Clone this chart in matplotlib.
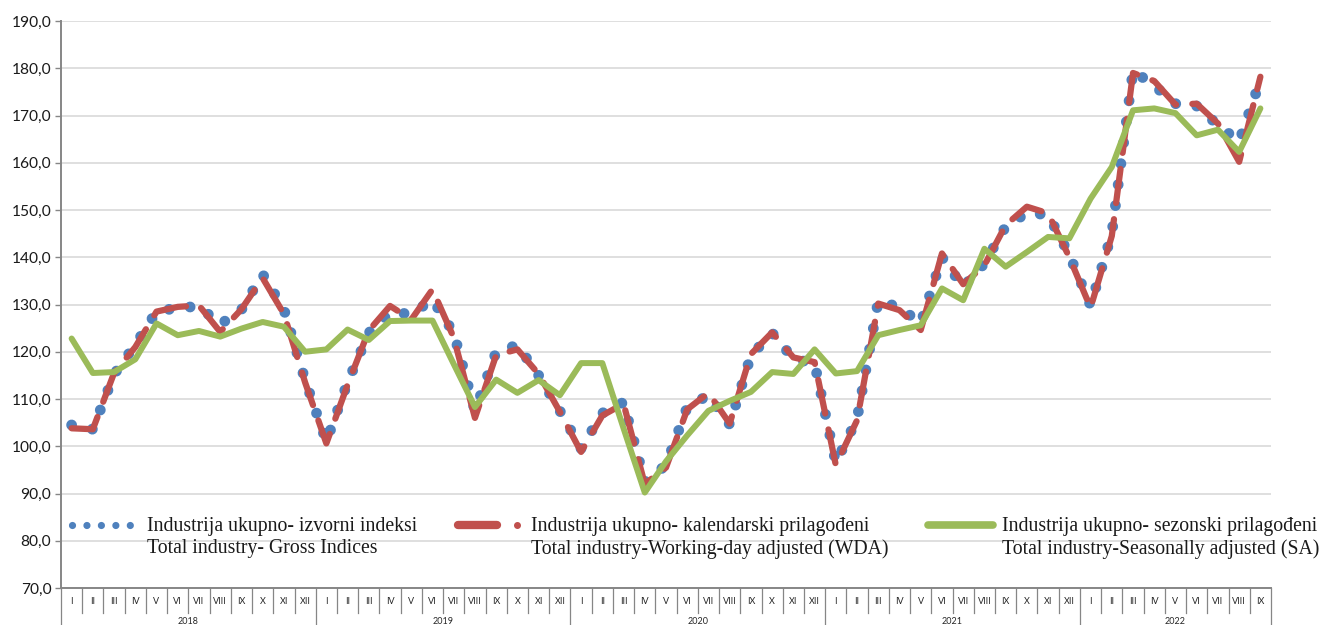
import matplotlib
matplotlib.use('Agg')
import matplotlib.pyplot as plt
from matplotlib.lines import Line2D
from matplotlib.ticker import FuncFormatter

# Mjeseci (rimski brojevi) i godine na x osi
MONTHS = ['I', 'II', 'III', 'IV', 'V', 'VI', 'VII', 'VIII', 'IX', 'X', 'XI', 'XII']
YEARS = ['2018', '2019', '2020', '2021', '2022']
MONTHS_LAST_YEAR = 9

# Izvorni indeksi (gross)
gross = [104.5, 103.6, 115.2, 121.5, 128.5, 129.3, 129.6, 125.8, 128.9, 136.4, 129.0, 114.0,
         101.0, 113.5, 124.0, 128.3, 128.0, 131.0, 124.0, 107.5, 120.0, 121.4, 115.0, 107.5,
         99.5, 107.0, 109.3, 92.5, 96.0, 108.3, 110.8, 104.6, 119.2, 124.0, 118.5, 117.5,
         96.5, 105.8, 130.8, 129.4, 126.0, 140.0, 133.7, 138.7, 146.5, 149.4, 149.0, 140.5,
         129.8, 145.0, 179.5, 176.3, 172.5, 172.0, 168.0, 164.5, 177.5]

# Kalendarski prilagodjeni (WDA)
wda = [103.8, 103.6, 115.5, 121.0, 128.5, 129.5, 129.8, 124.2, 129.0, 135.6, 128.0, 113.5,
       100.6, 113.0, 124.5, 129.7, 126.8, 133.2, 123.0, 106.0, 119.3, 120.5, 115.3, 107.3,
       98.8, 106.5, 109.0, 92.0, 95.5, 107.8, 111.3, 104.8, 119.5, 124.1, 118.8, 117.8,
       96.0, 105.5, 130.2, 128.8, 124.6, 140.8, 134.3, 138.3, 146.8, 150.7, 149.3, 140.0,
       129.3, 144.5, 179.0, 177.3, 172.3, 172.5, 168.3, 160.2, 178.2]

# Sezonski prilagodjeni (SA)
sa = [122.8, 115.5, 115.7, 118.4, 126.0, 123.5, 124.4, 123.2, 124.9, 126.3, 125.3, 120.0,
      120.5, 124.7, 122.5, 126.5, 126.6, 126.6, 117.4, 108.3, 114.1, 111.3, 114.0, 110.8,
      117.6, 117.6, 103.8, 90.2, 96.8, 102.3, 107.5, 109.6, 111.5, 115.7, 115.3, 120.5,
      115.4, 115.9, 123.5, 124.6, 125.6, 133.4, 130.9, 141.8, 138.0, 141.1, 144.3, 144.0,
      152.4, 159.1, 171.1, 171.5, 170.5, 165.8, 167.0, 162.3, 171.5]

LABELS = [
    ('Industrija ukupno- izvorni indeksi', 'Total industry- Gross Indices'),
    ('Industrija ukupno- kalendarski prilagođeni', 'Total industry-Working-day adjusted (WDA)'),
    ('Industrija ukupno- sezonski prilagođeni', 'Total industry-Seasonally adjusted (SA)'),
]

BLUE = '#4f81bd'
RED = '#c0504d'
GREEN = '#9bbb59'
AXIS_GRAY = '#868686'

W, H = 1322, 625


def fx(x):
    return x / W


def fy(y):
    return 1 - y / H


def draw_series(ax, n):
    x = list(range(n))
    # izvorni: okrugle tacke
    ax.plot(x, gross, color=BLUE, lw=7.8, linestyle=(0, (0.001, 1.95)),
            dash_capstyle='round', zorder=2)
    # WDA: isprekidana linija
    ax.plot(x, wda, color=RED, lw=4.5, linestyle=(0, (5.5, 2.6)),
            dash_capstyle='round', solid_joinstyle='round', zorder=3)
    # SA: puna linija
    ax.plot(x, sa, color=GREEN, lw=4.3, solid_joinstyle='round',
            solid_capstyle='round', zorder=4)


def draw_xaxis(ax, n):
    tr = ax.get_xaxis_transform()
    ah = 567.0
    labels = [MONTHS[i % 12] for i in range(n)]
    for i, lab in enumerate(labels):
        ax.text(i, -13 / ah, lab, transform=tr, ha='center', va='center',
                fontsize=6.5, family='Lato', color='#262626', clip_on=False)
    # separatori mjeseci
    for i in range(n + 1):
        edge = i - 0.5
        full = (i % 12 == 0) or i == n
        y1 = -40 / ah if full else -25 / ah
        ax.plot([edge, edge], [0, y1], transform=tr, color=AXIS_GRAY,
                lw=0.9, clip_on=False, zorder=1)
    # godine
    start = 0
    for yr in YEARS:
        cnt = 12 if yr != YEARS[-1] else MONTHS_LAST_YEAR
        ax.text(start + (cnt - 1) / 2, -33 / ah, yr, transform=tr, ha='center',
                va='center', fontsize=6.5, family='Lato', color='#262626',
                clip_on=False)
        start += cnt


def draw_legend(fig):
    yl = 525
    # izvorni
    fig.add_artist(Line2D([fx(72), fx(131)], [fy(yl), fy(yl)], color=BLUE, lw=5.2,
                          linestyle=(0, (0.001, 2.0)), dash_capstyle='round'))
    # WDA
    fig.add_artist(Line2D([fx(458), fx(497)], [fy(yl), fy(yl)], color=RED, lw=6,
                          solid_capstyle='round'))
    fig.add_artist(Line2D([fx(517)], [fy(yl)], color=RED, marker='o',
                          markersize=4, lw=0))
    # SA
    fig.add_artist(Line2D([fx(928), fx(993)], [fy(yl), fy(yl)], color=GREEN, lw=5.5,
                          solid_capstyle='round'))
    for xt, (l1, l2) in zip([147, 531, 1002], LABELS):
        fig.text(fx(xt), fy(526), l1, ha='left', va='center', fontsize=14.2,
                 family='Liberation Serif', color='#1a1a1a')
        fig.text(fx(xt), fy(549), l2, ha='left', va='center', fontsize=14.2,
                 family='Liberation Serif', color='#1a1a1a')


def main():
    n = len(gross)
    fig = plt.figure(figsize=(W / 100, H / 100), dpi=100)
    ax = fig.add_axes([fx(61), fy(588), (1271 - 61) / W, (588 - 21) / H])

    draw_series(ax, n)

    ax.set_xlim(-0.5, n - 0.5)
    ax.set_ylim(70, 190)
    ax.set_yticks(range(70, 191, 10))
    ax.yaxis.set_major_formatter(FuncFormatter(lambda v, p: f'{v:.1f}'.replace('.', ',')))
    ax.set_xticks([])
    ax.grid(axis='y', color='#d9d9d9', lw=1.2)
    ax.set_axisbelow(True)
    for s in ['top', 'right']:
        ax.spines[s].set_visible(False)
    for s in ['left', 'bottom']:
        ax.spines[s].set_color(AXIS_GRAY)
        ax.spines[s].set_linewidth(1.4)
    ax.tick_params(axis='y', direction='out', length=4, width=1, color=AXIS_GRAY,
                   labelsize=11.2, pad=3, labelcolor='#1a1a1a')
    for t in ax.get_yticklabels():
        t.set_family('Lato')

    draw_xaxis(ax, n)
    draw_legend(fig)

    fig.savefig('out.png', dpi=100)
    plt.close(fig)


if __name__ == '__main__':
    main()
